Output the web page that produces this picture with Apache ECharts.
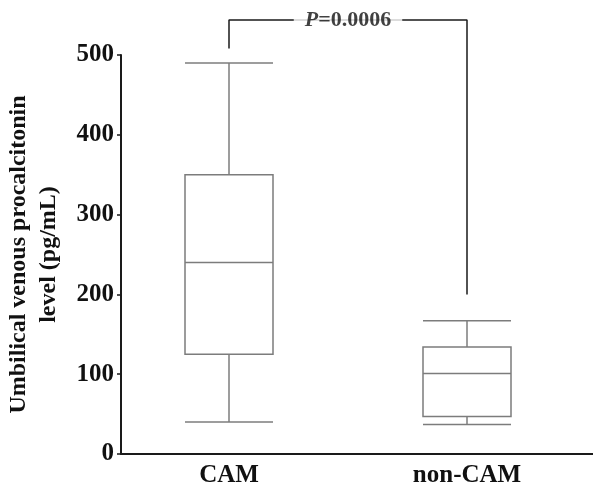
<!DOCTYPE html>
<html>
<head>
<meta charset="utf-8">
<script src="https://cdn.jsdelivr.net/npm/echarts@6/dist/echarts.min.js"></script>
<style>html,body{margin:0;padding:0;background:#fff;}#c{width:593px;height:490px;}</style>
</head>
<body>
<div id="c"></div>
<script>
// ---- data ----
var categories = ['CAM', 'non-CAM'];
// [min, Q1, median, Q3, max]
var camBox = [40, 125, 240, 350, 490];
var nonCamBox = [37, 47, 101, 134, 167];
var yTicks = [0, 100, 200, 300, 400, 500];
var pLabel = '=0.0006';
// bracket levels (data units): left leg bottom, top bar, right leg bottom
var bracketLevels = [508, 544, 200];

var FONT = "'Liberation Serif','Times New Roman',serif";
var TXT = '#111';
var boxes = [camBox, nonCamBox];
var boxData = boxes.map(function (b, i) { return [i + 1].concat(b); });

var chart = echarts.init(document.getElementById('c'), null, {renderer: 'canvas'});
chart.setOption({
  backgroundColor: '#fff',
  animation: false,
  grid: {left: 121, right: 0, top: 55, bottom: 36, containLabel: false, outerBoundsMode: 'none'},
  xAxis: {
    type: 'value',
    min: 1 - 108 / 238,
    max: 2 + 126 / 238,
    axisLine: {lineStyle: {color: '#1a1a1a', width: 2}},
    axisTick: {show: false},
    splitLine: {show: false},
    axisLabel: {
      customValues: [1, 2],
      formatter: function (v) { return categories[Math.round(v) - 1] || ''; },
      fontFamily: FONT, fontWeight: 'bold', fontSize: 25, color: TXT, margin: 9
    }
  },
  yAxis: {
    type: 'value',
    min: 0, max: 500, interval: 100,
    name: 'Umbilical venous procalcitonin\nlevel (pg/mL)',
    nameLocation: 'middle',
    nameRotate: 90,
    nameGap: 57,
    nameTextStyle: {fontFamily: FONT, fontWeight: 'bold', fontSize: 24, lineHeight: 30, color: TXT},
    axisLine: {show: true, lineStyle: {color: '#1a1a1a', width: 2}},
    axisTick: {show: true, length: 4, lineStyle: {color: '#1a1a1a', width: 1.5}},
    splitLine: {show: false},
    axisLabel: {fontFamily: FONT, fontWeight: 'bold', fontSize: 25, color: TXT, margin: 7,
      formatter: function (v) { return yTicks.indexOf(v) >= 0 ? String(v) : ''; }}
  },
  series: [
    {
      type: 'custom',
      clip: false,
      data: boxData,
      encode: {x: 0, y: [1, 2, 3, 4, 5]},
      renderItem: function (params, api) {
        var x = api.value(0);
        var p = [1, 2, 3, 4, 5].map(function (d) { return api.coord([x, api.value(d)]); });
        var cx = p[0][0], hw = 44;
        var st = {stroke: '#7c7c7c', lineWidth: 1.5, fill: null};
        return {
          type: 'group',
          children: [
            {type: 'line', shape: {x1: cx - hw, y1: p[0][1], x2: cx + hw, y2: p[0][1]}, style: st},
            {type: 'line', shape: {x1: cx, y1: p[0][1], x2: cx, y2: p[1][1]}, style: st},
            {type: 'rect', shape: {x: cx - hw, y: p[3][1], width: 2 * hw, height: p[1][1] - p[3][1]}, style: st},
            {type: 'line', shape: {x1: cx - hw, y1: p[2][1], x2: cx + hw, y2: p[2][1]}, style: st},
            {type: 'line', shape: {x1: cx, y1: p[3][1], x2: cx, y2: p[4][1]}, style: st},
            {type: 'line', shape: {x1: cx - hw, y1: p[4][1], x2: cx + hw, y2: p[4][1]}, style: st}
          ]
        };
      }
    },
    {
      type: 'line',
      clip: false,
      symbol: 'none',
      silent: true,
      lineStyle: {color: '#1a1a1a', width: 1.5},
      data: [[1, bracketLevels[0]], [1, bracketLevels[1]], [2, bracketLevels[1]], [2, bracketLevels[2]]],
      z: 3
    },
    {
      type: 'scatter',
      clip: false,
      symbolSize: 0,
      silent: true,
      z: 5,
      data: [[1.5, bracketLevels[1]]],
      label: {
        show: true,
        position: 'inside',
        backgroundColor: '#fff',
        padding: [2, 11, 2, 11],
        formatter: '{i|P}{b|' + pLabel + '}',
        rich: {
          i: {fontFamily: FONT, fontWeight: 'bold', fontStyle: 'italic', fontSize: 22, color: TXT},
          b: {fontFamily: FONT, fontWeight: 'bold', fontSize: 22, color: TXT}
        }
      }
    }
  ]
});
</script>
</body>
</html>
